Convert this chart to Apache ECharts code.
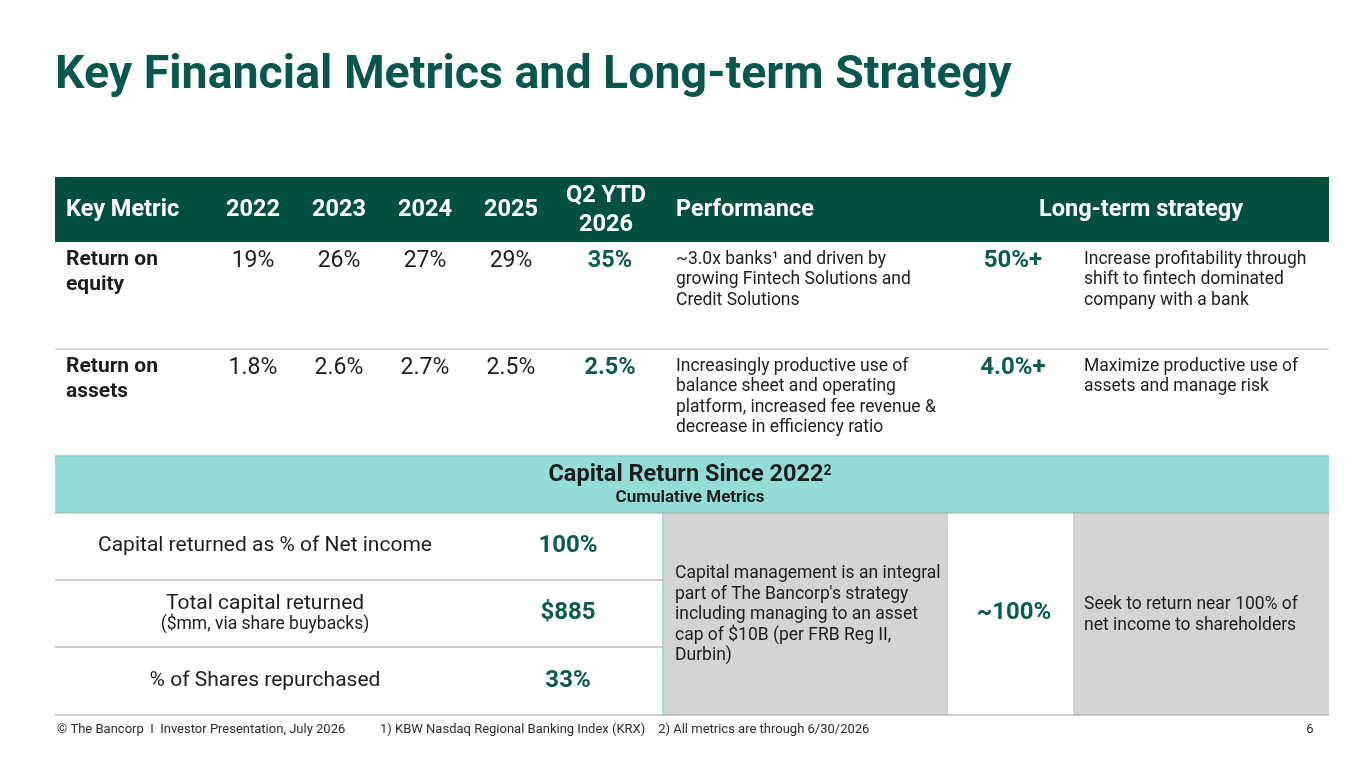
<!DOCTYPE html>
<html>
<head>
<meta charset="utf-8">
<script src="https://cdn.jsdelivr.net/npm/echarts/dist/echarts.min.js"></script>
<style>
  html, body { margin: 0; padding: 0; background: #fff; }
  #chart { width: 1365px; height: 768px; }
</style>
</head>
<body>
<div id="chart"></div>
<script>
// --- data ---
const headers = ['Key Metric', '2022', '2023', '2024', '2025', 'Q2 YTD\n2026', 'Performance', 'Long-term strategy'];
const metricNames = ['Return on\nequity', 'Return on\nassets'];
const roe = [19, 26, 27, 29];
const roeYtd = 35;
const roa = [1.8, 2.6, 2.7, 2.5];
const roaYtd = 2.5;
const performance = [
  '~3.0x banks¹ and driven by\ngrowing Fintech Solutions and\nCredit Solutions',
  'Increasingly productive use of\nbalance sheet and operating\nplatform, increased fee revenue &\ndecrease in efficiency ratio'
];
const targets = ['50%+', '4.0%+'];
const strategies = [
  'Increase profitability through\nshift to fintech dominated\ncompany with a bank',
  'Maximize productive use of\nassets and manage risk'
];
const capitalLabels = ['Capital returned as % of Net income', 'Total capital returned', '% of Shares repurchased'];
const capitalSubLabels = ['', '($mm, via share buybacks)', ''];
const capitalValues = ['100%', '$885', '33%'];
const capitalNote = 'Capital management is an integral\npart of The Bancorp\'s strategy\nincluding managing to an asset\ncap of $10B (per FRB Reg II,\nDurbin)';
const capitalTarget = '~100%';
const capitalStrategy = 'Seek to return near 100% of\nnet income to shareholders';

// --- layout ---
const FONT = 'Roboto, "Noto Sans", sans-serif';
const DARK = '#04503f';
const GREEN = '#0b5c4b';
const INK = '#1d1d1d';
const LINE = '#b4b4b4';
const GREY = '#d4d4d4';
const TEAL = '#93ddd6';

const L = 55, R = 1329;
const headTop = 177, headBot = 242;
const rowTops = [242, 349];
const rowBot = 456;
const bandBot = 513;
const lowBot = 715;
const yearX = [253, 339, 425, 511];
const ytdX = 610;
const perfX = 676;
const targetX = 1013;
const stratX = 1084;
const subRowMid = [546, 613, 681];
const subLines = [580, 647];
const splitX = 663;
const noteCell = [664, 948];
const stratCell = [1073, R];
const BODY = 17.5;

const g = [];
function text(x, y, str, size, opts) {
  opts = opts || {};
  g.push({
    type: 'text', z: 10,
    style: {
      x: x, y: y, text: str,
      fontFamily: FONT, fontSize: size,
      fontWeight: opts.bold ? 'bold' : 'normal',
      fill: opts.color || INK,
      align: opts.align || 'left',
      verticalAlign: opts.va || 'top',
      lineHeight: opts.lh || Math.round(size * 1.28),
      rich: opts.rich
    }
  });
}
function rect(x, y, w, h, fill) {
  g.push({ type: 'rect', z: 1, shape: { x: x, y: y, width: w, height: h }, style: { fill: fill } });
}
function line(x1, y1, x2, y2, color, w) {
  g.push({ type: 'line', z: 5, shape: { x1: x1, y1: y1, x2: x2, y2: y2 }, style: { stroke: color, lineWidth: w || 1 } });
}

// title
text(55, 76, 'Key Financial Metrics and Long-term Strategy', 46.5, { bold: true, color: '#07574a', va: 'middle' });

// header band
rect(L, headTop, R - L, headBot - headTop, DARK);
const headMid = (headTop + headBot) / 2 + 1;
const HS = 23.5;
text(66, headMid, headers[0], HS, { bold: true, color: '#fff', va: 'middle' });
yearX.forEach((x, i) => text(x, headMid, headers[i + 1], HS, { bold: true, color: '#fff', align: 'center', va: 'middle' }));
text(606, headMid, headers[5], HS, { bold: true, color: '#fff', align: 'center', va: 'middle', lh: 29 });
text(perfX, headMid, headers[6], HS, { bold: true, color: '#fff', va: 'middle' });
text(1141, headMid, headers[7], HS, { bold: true, color: '#fff', align: 'center', va: 'middle' });

// metric rows
const rows = [
  { vals: roe.map(v => v + '%'), ytd: roeYtd + '%' },
  { vals: roa.map(v => v.toFixed(1) + '%'), ytd: roaYtd.toFixed(1) + '%' }
];
rows.forEach((r, i) => {
  const top = rowTops[i];
  text(66, top + 5, metricNames[i], 21, { bold: true, lh: 25 });
  r.vals.forEach((v, j) => text(yearX[j], top + 19, v, 23, { align: 'center', va: 'middle' }));
  text(ytdX, top + 19, r.ytd, 23.5, { bold: true, color: GREEN, align: 'center', va: 'middle' });
  text(perfX, top + 7, performance[i], BODY, { lh: 20.5 });
  text(targetX, top + 19, targets[i], 24, { bold: true, color: GREEN, align: 'center', va: 'middle' });
  text(stratX, top + 7, strategies[i], BODY, { lh: 20.5 });
});
line(L, rowTops[1], R, rowTops[1], LINE);

// capital band
rect(L, rowBot, R - L, bandBot - rowBot, TEAL);
line(L, rowBot, R, rowBot, '#7fcfc7', 1.5);
line(L, bandBot, R, bandBot, '#9aa9a6', 1);
text(690, 475, 'Capital Return Since 2022{sup|2}', 23.5, {
  bold: true, align: 'center', va: 'middle',
  rich: { sup: { fontSize: 14, fontWeight: 'bold', fontFamily: FONT, fill: INK, verticalAlign: 'bottom', padding: [0, 0, 12, 0] } }
});
text(690, 498, 'Cumulative Metrics', 17, { bold: true, align: 'center', va: 'middle' });

// lower section
rect(noteCell[0], bandBot, noteCell[1] - noteCell[0], lowBot - bandBot, GREY);
rect(stratCell[0], bandBot, stratCell[1] - stratCell[0], lowBot - bandBot, GREY);
line(splitX, bandBot, splitX, lowBot, '#7fcfc7', 1.5);
subLines.forEach(y => line(L, y, splitX, y, '#9a9a9a'));
line(L, lowBot, R, lowBot, '#9a9a9a');

capitalLabels.forEach((lab, i) => {
  if (capitalSubLabels[i]) {
    text(265, subRowMid[i] - 9, lab, 21, { align: 'center', va: 'middle' });
    text(265, subRowMid[i] + 12, capitalSubLabels[i], 17.5, { align: 'center', va: 'middle' });
  } else {
    text(265, subRowMid[i], lab, 21, { align: 'center', va: 'middle' });
  }
  text(568, subRowMid[i], capitalValues[i], 24, { bold: true, color: GREEN, align: 'center', va: 'middle' });
});
text(675, 615, capitalNote, BODY, { va: 'middle', lh: 20.5 });
text(targetX + 1, 613, capitalTarget, 24, { bold: true, color: GREEN, align: 'center', va: 'middle' });
text(stratX, 615, capitalStrategy, BODY, { va: 'middle', lh: 20.5 });

// footer
text(57, 730, '\u00a9 The Bancorp  I  Investor Presentation, July 2026', 13, { va: 'middle', color: '#2a2a2a' });
text(380, 730, '1) KBW Nasdaq Regional Banking Index (KRX)    2) All metrics are through 6/30/2026', 13, { va: 'middle', color: '#2a2a2a' });
text(1310, 730, '6', 13, { va: 'middle', align: 'center', color: '#2a2a2a' });

const chart = echarts.init(document.getElementById('chart'), null, { renderer: 'canvas' });
chart.setOption({
  backgroundColor: '#ffffff',
  animation: false,
  graphic: g
});
</script>
</body>
</html>
